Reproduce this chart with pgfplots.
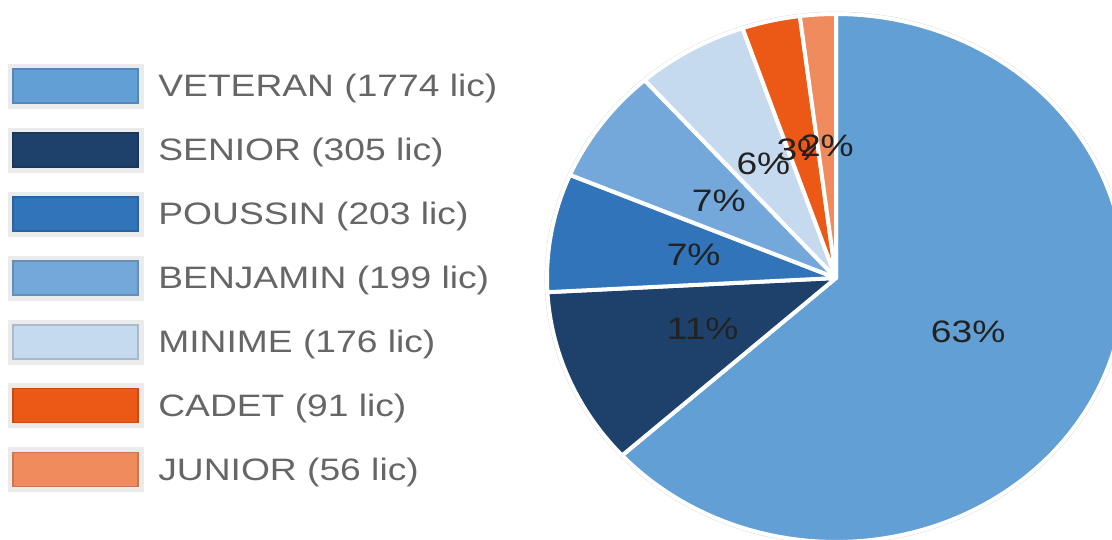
\documentclass[border=0pt]{standalone}
\usepackage{pgfplots}
\pgfplotsset{compat=1.18}
\usepackage{fontspec}
\setmainfont{Liberation Sans}[FakeStretch=1.2]

\definecolor{cVet}{HTML}{629FD5}
\definecolor{cSen}{HTML}{1D416B}
\definecolor{cPou}{HTML}{3174B9}
\definecolor{cBen}{HTML}{74A8DA}
\definecolor{cMin}{HTML}{C6DAEF}
\definecolor{cCad}{HTML}{EC5815}
\definecolor{cJun}{HTML}{F08B5E}
\definecolor{legendtext}{HTML}{666666}
\definecolor{labeltext}{HTML}{222222}

\newcommand\bigfont{\fontsize{31}{36}\selectfont}

% one slice: cumulative licences before and after it (total 2804), colour, label
% pie centre (836,262), radii 289 x 264 in picture units, starts at 12 o'clock, clockwise
\newcommand\slice[4]{%
  \addplot[fill=#3, draw=white, line width=4pt, line join=round,
    domain={90-#2/2804*360}:{90-#1/2804*360}, samples=120, forget plot]
    ({836+289*cos(x)}, {262+264*sin(x)}) -- (axis cs:836,262) -- cycle;
  \node[text=labeltext, font=\bigfont, inner sep=0pt]
    at (axis cs:{836+0.5*289*cos(90-(#1+#2)/2804*180)},{262+0.5*264*sin(90-(#1+#2)/2804*180)}) {#4};
}

\begin{document}
\begin{tikzpicture}
\begin{axis}[
    width=1112pt, height=540pt, scale only axis,
    xmin=0, xmax=1112, ymin=0, ymax=540,
    hide axis, clip=true,
    legend style={
        at={(0.00719,0.8815)}, anchor=north west,
        draw=none, fill=none, inner sep=0pt, outer sep=0pt,
        row sep=19.5pt, column sep=15pt,
        font=\bigfont, text=legendtext,
        nodes={inner sep=0pt, outer sep=0pt},
        cells={anchor=west},
    },
    legend image code/.code={
        \fill[black!8] (-5pt,-22pt) rectangle (130pt,22pt);
        \draw[#1, line width=1.5pt] (0pt,-17pt) rectangle (125pt,17pt);
    },
]

\addplot[draw=black!15, line width=0.8pt, domain=0:360, samples=200, forget plot]
    ({836+291*cos(x)}, {262+266*sin(x)});

\slice{0}{1774}{cVet}{63\%}
\slice{1774}{2079}{cSen}{11\%}
\slice{2079}{2282}{cPou}{7\%}
\slice{2282}{2481}{cBen}{7\%}
\slice{2481}{2657}{cMin}{6\%}
\slice{2657}{2748}{cCad}{3\%}
\slice{2748}{2804}{cJun}{2\%}

\addlegendimage{fill=cVet, draw=cVet!85!black}
\addlegendentry{VETERAN (1774 lic)}
\addlegendimage{fill=cSen, draw=cSen!85!black}
\addlegendentry{SENIOR (305 lic)}
\addlegendimage{fill=cPou, draw=cPou!85!black}
\addlegendentry{POUSSIN (203 lic)}
\addlegendimage{fill=cBen, draw=cBen!85!black}
\addlegendentry{BENJAMIN (199 lic)}
\addlegendimage{fill=cMin, draw=cMin!85!black}
\addlegendentry{MINIME (176 lic)}
\addlegendimage{fill=cCad, draw=cCad!85!black}
\addlegendentry{CADET (91 lic)}
\addlegendimage{fill=cJun, draw=cJun!85!black}
\addlegendentry{JUNIOR (56 lic)}
\end{axis}
\pgfresetboundingbox
\path (0,0) rectangle (1112pt,540pt);
\end{tikzpicture}
\end{document}
